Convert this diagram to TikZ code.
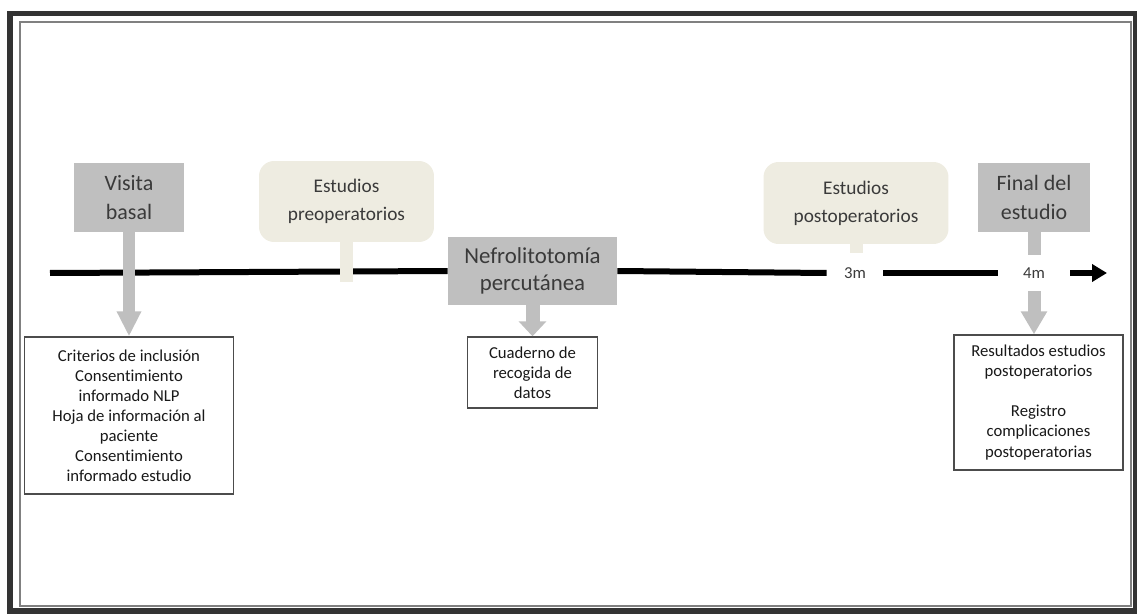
\documentclass[tikz,border=0pt]{standalone}
\usepackage{fontspec}
\setmainfont{Carlito}[Ligatures=NoCommon]
\usetikzlibrary{arrows.meta}

\definecolor{boxgray}{HTML}{BFBFBF}
\definecolor{tanbg}{HTML}{EEECE1}
\definecolor{txtgray}{HTML}{3A3A3A}

\begin{document}
\begin{tikzpicture}[x=0.02cm, y=-0.02cm,
  hito/.style={fill=boxgray, text=txtgray, align=center, inner sep=0pt,
    font=\fontsize{12.5}{16.5}\selectfont},
  estudio/.style={fill=tanbg, rounded corners=0.3cm, text=txtgray, align=center,
    inner sep=0pt, font=\fontsize{11}{16}\selectfont},
  datos/.style={draw=black!70, line width=0.8pt, fill=white, text=black!90,
    align=center, inner sep=0pt, font=\fontsize{9.5}{11.4}\selectfont},
  marca/.style={inner sep=0pt, text=txtgray, font=\fontsize{9.5}{11.4}\selectfont},
  eje/.style={draw=black, line width=0.12cm},
  pestana/.style={draw=tanbg, line width=0.26cm},
  flecha/.style={draw=boxgray, line width=0.24cm, -{Triangle[width=0.46cm, length=0.5cm]}}]
  \useasboundingbox (0,0) rectangle (1137,615);

  % Frame
  \draw[line width=3pt, black!80] (10,13.5) rectangle (1135.5,611);
  \draw[line width=1pt, black!50] (20,22) rectangle (1131,606);

  % Nodes
  \node[hito, minimum width=2.2cm, minimum height=1.38cm] (visita) at (129,197.5) {Visita\\basal};
  \node[estudio, minimum width=3.5cm, minimum height=1.62cm] (pre) at (346.5,201.5) {Estudios\\preoperatorios};
  \node[hito, minimum width=3.38cm, minimum height=1.36cm,
    font=\fontsize{13}{15.5}\selectfont] (nefro) at (532.5,271) {Nefrolitotomía\\percutánea};
  \node[estudio, minimum width=3.7cm, minimum height=1.64cm] (post) at (856,203) {Estudios\\postoperatorios};
  \node[hito, minimum width=2.24cm, minimum height=1.38cm,
    font=\fontsize{12.5}{17}\selectfont] (final) at (1034,197.5) {Final del\\estudio};

  \node[datos, minimum width=4.18cm, minimum height=3.14cm] (basal) at (129,415.5)
    {Criterios de inclusión\\Consentimiento\\informado NLP\\Hoja de información al\\paciente\\Consentimiento\\informado estudio};
  \node[datos, minimum width=2.6cm, minimum height=1.42cm] (cuaderno) at (532.5,372.5)
    {Cuaderno de\\recogida de\\datos};
  \node[datos, minimum width=3.38cm, minimum height=2.7cm] (resultados) at (1038.5,402.5)
    {Resultados estudios\\postoperatorios\\[11.4pt]Registro\\complicaciones\\postoperatorias};

  % Timeline
  \coordinate (inicio) at (50,273);
  \coordinate (fin) at (1107,273);
  \coordinate (pretab) at (346.5,282);
  \coordinate (posttab) at (856,253);
  \node[marca, minimum width=1.12cm] (m3) at (855,273) {3m};
  \node[marca, minimum width=1.44cm, minimum height=0.72cm] (m4) at (1034,273) {4m};

  \draw[eje] (inicio) -- (nefro.west);
  \draw[eje] (nefro.east) -- (m3.west);
  \draw[eje] (m3.east) -- (m4.west);
  \draw[eje, -{Triangle[width=0.34cm, length=0.3cm]}] (m4.east) -- (fin);

  % Arrows
  \draw[pestana] (pre.south) -- (pretab);
  \draw[pestana] (post.south) -- (posttab);
  \draw[flecha] (visita) -- (basal);
  \draw[flecha, line width=0.28cm, -{Triangle[width=0.54cm, length=0.3cm]}] (nefro) -- (cuaderno);
  \draw[draw=boxgray, line width=0.26cm] (final) -- (m4);
  \draw[flecha, line width=0.26cm, -{Triangle[width=0.5cm, length=0.46cm]}] (m4.south) -- (m4.south |- resultados.north);
\end{tikzpicture}
\end{document}
